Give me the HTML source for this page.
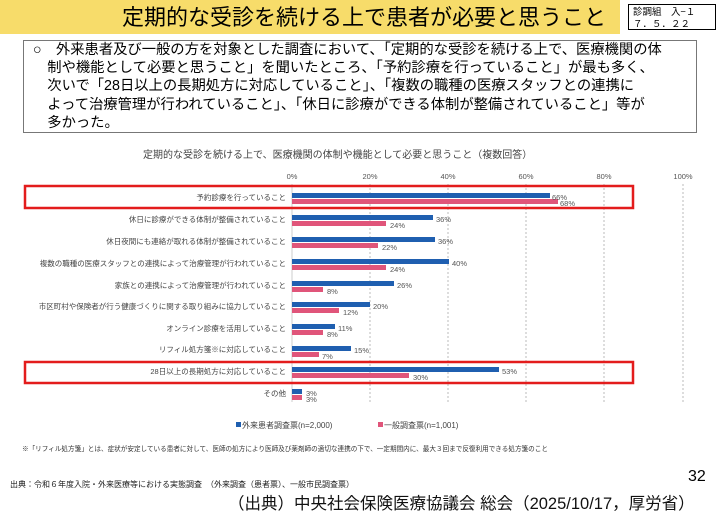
<!DOCTYPE html>
<html><head><meta charset="utf-8"><style>
*{margin:0;padding:0}
body{width:720px;height:514px;background:#fff;position:relative;overflow:hidden;font-family:"Liberation Sans","Noto Sans CJK JP",sans-serif;color:#000}
.a{position:absolute;white-space:nowrap}
</style></head><body>
<div class="a" style="left:0;top:0;width:620px;height:34px;background:#f7dc6a"></div>
<div class="a" style="left:122px;top:3px;font-size:22px;line-height:29px">定期的な受診を続ける上で患者が必要と思うこと</div>
<div class="a" style="left:628px;top:4px;width:88px;height:26px;border:1px solid #000;font-size:9.5px;line-height:12px;padding-left:4px;box-sizing:border-box;font-family:'Noto Sans CJK JP',monospace">診調組　入−１<br>７．５．２２</div>
<div class="a" style="left:23px;top:40px;width:674px;height:93px;border:1px solid #777;box-sizing:border-box"></div>
<div class="a" style="left:33px;top:41px;font-size:14.3px;line-height:18.2px;white-space:normal;width:660px">○　外来患者及び一般の方を対象とした調査において、「定期的な受診を続ける上で、医療機関の体<br>　制や機能として必要と思うこと」を聞いたところ、「予約診療を行っていること」が最も多く、<br>　次いで「28日以上の長期処方に対応していること」、「複数の職種の医療スタッフとの連携に<br>　よって治療管理が行われていること」、「休日に診療ができる体制が整備されていること」等が<br>　多かった。</div>
<div class="a" style="left:143px;top:146px;font-size:10px;color:#444">定期的な受診を続ける上で、医療機関の体制や機能として必要と思うこと（複数回答）</div>
<svg class="a" style="left:0;top:0" width="720" height="514" font-family="Liberation Sans,Noto Sans CJK JP,sans-serif">
<g stroke="#bbb" stroke-dasharray="2,2">
<line x1="370" y1="184" x2="370" y2="402"/><line x1="448" y1="184" x2="448" y2="402"/><line x1="526" y1="184" x2="526" y2="402"/><line x1="604" y1="184" x2="604" y2="402"/><line x1="683" y1="184" x2="683" y2="402"/>
</g>
<line x1="292" y1="184" x2="292" y2="402" stroke="#ccc"/>
<g font-size="7.5" fill="#555" text-anchor="middle">
<text x="292" y="179">0%</text><text x="370" y="179">20%</text><text x="448" y="179">40%</text><text x="526" y="179">60%</text><text x="604" y="179">80%</text><text x="683" y="179">100%</text>
</g>
<g font-size="7.5" fill="#444" text-anchor="end">
<text x="286" y="200">予約診療を行っていること</text>
<text x="286" y="222">休日に診療ができる体制が整備されていること</text>
<text x="286" y="244">休日夜間にも連絡が取れる体制が整備されていること</text>
<text x="286" y="266">複数の職種の医療スタッフとの連携によって治療管理が行われていること</text>
<text x="286" y="288">家族との連携によって治療管理が行われていること</text>
<text x="286" y="309">市区町村や保険者が行う健康づくりに関する取り組みに協力していること</text>
<text x="286" y="331">オンライン診療を活用していること</text>
<text x="286" y="352">リフィル処方箋※に対応していること</text>
<text x="286" y="374">28日以上の長期処方に対応していること</text>
<text x="286" y="396">その他</text>
</g>
<g fill="#1f5fb0">
<rect x="292" y="193" width="258" height="5"/><rect x="292" y="215" width="141" height="5"/><rect x="292" y="237" width="143" height="5"/><rect x="292" y="259" width="157" height="5"/><rect x="292" y="281" width="102" height="5"/><rect x="292" y="302" width="78" height="5"/><rect x="292" y="324" width="43" height="5"/><rect x="292" y="346" width="59" height="5"/><rect x="292" y="367" width="207" height="5"/><rect x="292" y="389" width="10" height="5"/>
</g>
<g fill="#e0557a">
<rect x="292" y="199" width="266" height="5"/><rect x="292" y="221" width="94" height="5"/><rect x="292" y="243" width="86" height="5"/><rect x="292" y="265" width="94" height="5"/><rect x="292" y="287" width="31" height="5"/><rect x="292" y="308" width="47" height="5"/><rect x="292" y="330" width="31" height="5"/><rect x="292" y="352" width="27" height="5"/><rect x="292" y="373" width="117" height="5"/><rect x="292" y="395" width="10" height="5"/>
</g>
<g font-size="7.5" fill="#555">
<text x="552" y="200">66%</text><text x="560" y="206">68%</text>
<text x="436" y="222">36%</text><text x="390" y="228">24%</text>
<text x="438" y="244">36%</text><text x="382" y="250">22%</text>
<text x="452" y="266">40%</text><text x="390" y="272">24%</text>
<text x="397" y="288">26%</text><text x="327" y="294">8%</text>
<text x="373" y="309">20%</text><text x="343" y="315">12%</text>
<text x="338" y="331">11%</text><text x="327" y="337">8%</text>
<text x="354" y="353">15%</text><text x="322" y="359">7%</text>
<text x="502" y="374">53%</text><text x="413" y="380">30%</text>
<text x="306" y="396">3%</text><text x="306" y="402">3%</text>
</g>
<rect x="25" y="186" width="608" height="22" fill="none" stroke="#e31c1c" stroke-width="2.5"/>
<rect x="25" y="362" width="608" height="21" fill="none" stroke="#e31c1c" stroke-width="2.5"/>
<rect x="236" y="422" width="5" height="5" fill="#1f5fb0"/>
<text x="242" y="428" font-size="8" fill="#444">外来患者調査票(n=2,000)</text>
<rect x="378" y="422" width="5" height="5" fill="#e0557a"/>
<text x="384" y="428" font-size="8" fill="#444">一般調査票(n=1,001)</text>
</svg>
<div class="a" style="left:22px;top:443px;font-size:6.6px;color:#333">※「リフィル処方箋」とは、症状が安定している患者に対して、医師の処方により医師及び薬剤師の適切な連携の下で、一定期間内に、最大３回まで反復利用できる処方箋のこと</div>
<div class="a" style="left:10px;top:479px;font-size:8px;color:#222">出典：令和６年度入院・外来医療等における実態調査　（外来調査（患者票）、一般市民調査票）</div>
<div class="a" style="left:688px;top:468px;font-size:16px">32</div>
<div class="a" style="left:228px;top:490px;font-size:16.5px;color:#111">（出典）中央社会保険医療協議会 総会（2025/10/17，厚労省）</div>
</body></html>
